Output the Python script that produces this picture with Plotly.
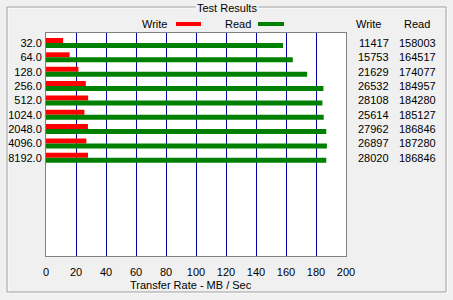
import plotly.graph_objects as go

block_sizes = ["32.0", "64.0", "128.0", "256.0", "512.0", "1024.0", "2048.0", "4096.0", "8192.0"]
write_kb = [11417, 15753, 21629, 26532, 28108, 25614, 27962, 26897, 28020]
read_kb = [158003, 164517, 174077, 184957, 184280, 185127, 186846, 187280, 186846]
x_ticks = [0, 20, 40, 60, 80, 100, 120, 140, 160, 180, 200]

W, H = 453, 300
L, R, T, B = 46, 346, 33, 256
FONT = "Liberation Sans, Arial, sans-serif"
BG = "#f0f0f0"

def px(x):
    return (x - L) / (R - L)

def py(y):
    return (B - y) / (B - T)

idx = list(range(len(block_sizes)))
write_mb = [v / 1000 for v in write_kb]
read_mb = [v / 1000 for v in read_kb]

fig = go.Figure()
fig.add_trace(go.Bar(y=idx, x=write_mb, orientation="h", name="Write",
                     marker=dict(color="#ff0000", line=dict(width=0))))
fig.add_trace(go.Bar(y=idx, x=read_mb, orientation="h", name="Read",
                     marker=dict(color="#008000", line=dict(width=0))))

row_px = 14.35
r_top = -(43 - T) / row_px
r_bot = r_top + (B - T) / row_px

annotations = []
# right-hand table
for i in idx:
    annotations.append(dict(x=px(391), y=i, xref="paper", yref="y", text=str(write_kb[i]),
                            showarrow=False, xanchor="right", yanchor="middle",
                            font=dict(size=11, color="black", family=FONT)))
    annotations.append(dict(x=px(438), y=i, xref="paper", yref="y", text=str(read_kb[i]),
                            showarrow=False, xanchor="right", yanchor="middle",
                            font=dict(size=11, color="black", family=FONT)))
annotations.append(dict(x=px(368), y=py(24), xref="paper", yref="paper", text="Write",
                        showarrow=False, xanchor="center", yanchor="middle",
                        font=dict(size=11, color="black", family=FONT)))
annotations.append(dict(x=px(416.5), y=py(24), xref="paper", yref="paper", text="Read",
                        showarrow=False, xanchor="center", yanchor="middle",
                        font=dict(size=11, color="black", family=FONT)))
# legend
annotations.append(dict(x=px(169), y=py(24), xref="paper", yref="paper", text="Write",
                        showarrow=False, xanchor="right", yanchor="middle",
                        font=dict(size=11, color="black", family=FONT)))
annotations.append(dict(x=px(253), y=py(24), xref="paper", yref="paper", text="Read",
                        showarrow=False, xanchor="right", yanchor="middle",
                        font=dict(size=11, color="black", family=FONT)))
# group title
annotations.append(dict(x=px(227), y=py(8), xref="paper", yref="paper", text="Test Results",
                        showarrow=False, xanchor="center", yanchor="middle", bgcolor=BG,
                        borderpad=1,
                        font=dict(size=11, color="black", family=FONT)))
# x-axis title
annotations.append(dict(x=px(190.5), y=py(284.5), xref="paper", yref="paper",
                        text="Transfer Rate - MB / Sec",
                        showarrow=False, xanchor="center", yanchor="middle",
                        font=dict(size=11, color="black", family=FONT)))

shapes = [
    # group box (etched)
    dict(type="rect", xref="paper", yref="paper", x0=px(8), x1=px(447), y0=py(293), y1=py(8),
         line=dict(color="#ffffff", width=1), layer="below"),
    dict(type="rect", xref="paper", yref="paper", x0=px(7), x1=px(446), y0=py(292), y1=py(7),
         line=dict(color="#a0a0a0", width=1), layer="below"),
    # legend swatches
    dict(type="rect", xref="paper", yref="paper", x0=px(176), x1=px(201), y0=py(26), y1=py(22),
         fillcolor="#ff0000", line=dict(width=0)),
    dict(type="rect", xref="paper", yref="paper", x0=px(258), x1=px(284), y0=py(26), y1=py(22),
         fillcolor="#008000", line=dict(width=0)),
]

fig.update_layout(
    width=W, height=H,
    margin=dict(l=L, r=W - R, t=T, b=H - B, pad=0, autoexpand=False),
    paper_bgcolor=BG, plot_bgcolor="white",
    barmode="group", bargap=0.3, bargroupgap=0,
    showlegend=False,
    font=dict(family=FONT, size=11, color="black"),
    annotations=annotations, shapes=shapes,
    xaxis=dict(range=[0, 200], tickvals=x_ticks, showgrid=True, gridcolor="#0000a0", gridwidth=1,
               zeroline=False, showline=True, mirror=True, linecolor="#808080", linewidth=1,
               ticks="", ticklabelstandoff=6, tickfont=dict(size=11, color="black", family=FONT),
               fixedrange=True, automargin=False),
    yaxis=dict(range=[r_bot, r_top], tickvals=idx, ticktext=block_sizes, showgrid=False,
               zeroline=False, showline=True, mirror=True, linecolor="#808080", linewidth=1,
               ticks="", ticklabelstandoff=1, tickfont=dict(size=11, color="black", family=FONT),
               fixedrange=True, automargin=False),
)

fig.write_html("out.html", config={"displayModeBar": False})
